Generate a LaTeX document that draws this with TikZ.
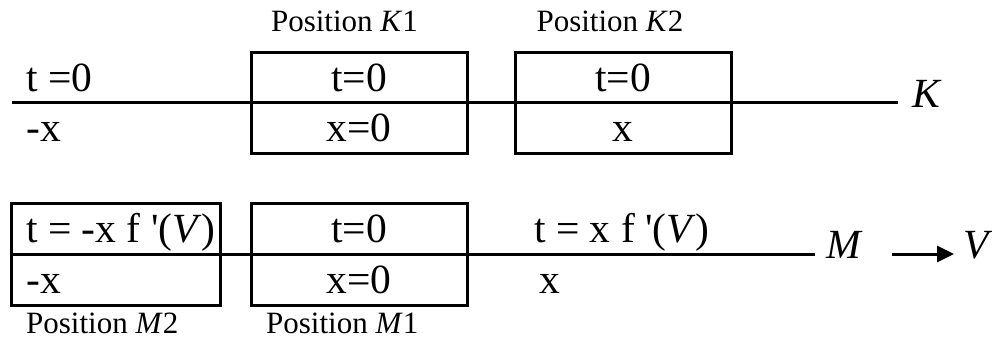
\documentclass[tikz,border=0pt]{standalone}
\usepackage{fontspec}
\setmainfont{Liberation Serif}
\usetikzlibrary{arrows.meta}
\begin{document}
\begin{tikzpicture}[x=1pt,y=-1pt,
  big/.style={inner sep=0pt,font=\fontsize{41.5}{48}\selectfont},
  small/.style={inner sep=0pt,font=\fontsize{31}{36}\selectfont},
  posbox/.style={draw,line width=3pt,inner sep=0pt},
  axis/.style={line width=3pt}]
\useasboundingbox (0,0) rectangle (992,339);
% ---- top row (K)
\node[posbox,minimum width=216pt,minimum height=101pt] (k1) at (359,103.5) {};
\node[posbox,minimum width=216pt,minimum height=101pt] (k2) at (623,103.5) {};
\coordinate (kL) at (12,103);
\coordinate (kR) at (898,103);
\draw[axis] (kL) -- (kR);
\node[big,anchor=base west] (kl) at (912,108) {\textit{K}};
\node[small,anchor=base] (pk1) at (344.5,32) {Position \textit{K}1};
\node[small,anchor=base] (pk2) at (610,32) {Position \textit{K}2};
\node[big,anchor=base west] (t0a) at (26,92) {t =0};
\node[big,anchor=base west] (xa) at (26,142) {-x};
\node[big,anchor=base] (t0b) at (359,92) {t=0};
\node[big,anchor=base] (xb) at (359,142) {x=0};
\node[big,anchor=base] (t0c) at (623,92) {t=0};
\node[big,anchor=base] (xc) at (623,142) {x};
% ---- bottom row (M)
\node[posbox,minimum width=209pt,minimum height=102pt] (m2) at (115.5,254) {};
\node[posbox,minimum width=216pt,minimum height=102pt] (m1) at (359,254) {};
\coordinate (mL) at (11,254);
\coordinate (mR) at (815,254);
\draw[axis] (mL) -- (mR);
\node[big,anchor=base west] (ml) at (826,258) {\textit{M}};
\coordinate (arS) at (892,254);
\coordinate (arE) at (954,254);
\node[big,anchor=base west] (vl) at (963,258) {\textit{V}};
\draw[axis,-{Triangle[length=17pt,width=16pt]}] (arS) -- (arE);
\node[big,anchor=base west] (tm2) at (26,242) {t = -x f \textquotesingle(\textit{V})};
\node[big,anchor=base west] (xm2) at (26,293) {-x};
\node[small,anchor=base west] (pm2) at (26,333) {Position \textit{M}2};
\node[big,anchor=base] (tm1) at (359,242) {t=0};
\node[big,anchor=base] (xm1) at (359,293) {x=0};
\node[small,anchor=base west] (pm1) at (266,333) {Position \textit{M}1};
\node[big,anchor=base west] (tr) at (534,242) {t = x f \textquotesingle(\textit{V})};
\node[big,anchor=base west] (xr) at (539,293) {x};
\end{tikzpicture}
\end{document}
